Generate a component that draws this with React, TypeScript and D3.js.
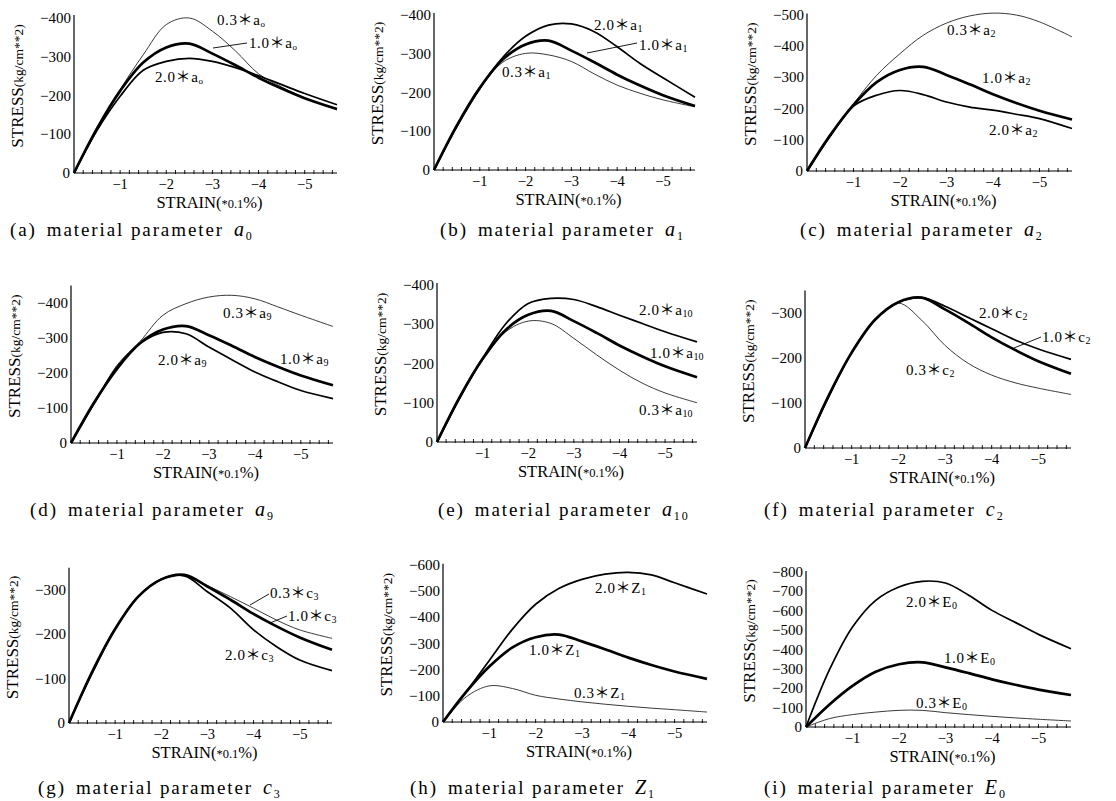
import React from "react";
import * as d3 from "d3";

// Strain (×0.1%) sample points shared by all series
const STRAIN = [0, -0.5, -1, -1.5, -2, -2.5, -3, -3.5, -4, -4.5, -5, -5.7];
const X_TICKS = [-1, -2, -3, -4, -5];
const X_MINOR = d3.range(1, 29).map((i) => -i * 0.2);

// reference curve (1.0 × parameter), stress in kg/cm**2
const BASE_10 = [0, -115, -212, -285, -324, -334, -308, -278, -246, -218, -193, -165];

// (a) a0
const A0_03 = [0, -110, -215, -305, -383, -400, -366, -315, -256, -222, -194, -163];
const A0_20 = [0, -110, -198, -265, -288, -296, -288, -272, -251, -228, -205, -176];
// (b) a1
const A1_20 = [0, -112, -210, -290, -345, -374, -377, -357, -318, -275, -238, -188];
const A1_03 = [0, -112, -210, -278, -301, -297, -280, -248, -219, -198, -181, -163];
// (c) a2
const A2_03 = [0, -112, -215, -307, -376, -435, -474, -497, -506, -500, -478, -430];
const A2_20 = [0, -112, -208, -243, -258, -245, -221, -205, -195, -182, -168, -136];
// (d) a9
const A9_03 = [0, -112, -222, -290, -365, -398, -417, -422, -412, -389, -365, -333];
const A9_20 = [0, -112, -217, -284, -316, -312, -274, -238, -203, -175, -150, -127];
// (e) a10
const A10_20 = [0, -112, -213, -300, -353, -366, -363, -345, -323, -302, -281, -255];
const A10_03 = [0, -112, -208, -280, -308, -302, -264, -222, -183, -150, -125, -100];
// (f) c2
const C2_20 = [0, -112, -212, -285, -324, -334, -315, -290, -265, -240, -220, -197];
const C2_03 = [0, -112, -212, -284, -322, -284, -228, -188, -162, -145, -133, -119];
// (g) c3
const C3_03 = [0, -112, -212, -285, -324, -334, -310, -285, -259, -232, -210, -191];
const C3_20 = [0, -112, -212, -285, -324, -332, -296, -259, -210, -172, -142, -118];
// (h) Z1
const Z1_20 = [0, -115, -235, -355, -450, -510, -545, -565, -572, -562, -532, -489];
const Z1_03 = [0, -96, -138, -128, -102, -88, -77, -68, -60, -53, -47, -38];
// (i) E0
const E0_20 = [0, -293, -516, -654, -723, -752, -743, -680, -602, -540, -478, -404];
const E0_03 = [0, -43, -64, -77, -86, -86, -74, -64, -55, -47, -40, -31];

type Lbl = { f: string; x: number; y: number; lead?: [number, number, number, number] };
type Panel = {
  letter: string;
  sym: string;
  symSub: string;
  capSym: string;
  capSub: string;
  x0: number; x1: number; y0: number;
  yRef: number; yRefPx: number; yTop: number;
  yTicks: number[];
  series: { f: string; v: number[] }[];
  labels: Lbl[];
  capX: number; capY: number;
};

const ticksTo = (m: number) => d3.range(0, m + 1, 100).map((v) => -v);

const PANELS: Panel[] = [
  {
    letter: "a", sym: "a", symSub: "o", capSym: "a", capSub: "0",
    x0: 74, x1: 337, y0: 173, yRef: -400, yRefPx: 18, yTop: -408, yTicks: ticksTo(400),
    series: [{ f: "0.3", v: A0_03 }, { f: "2.0", v: A0_20 }, { f: "1.0", v: BASE_10 }],
    labels: [{ f: "0.3", x: 217, y: 20 }, { f: "1.0", x: 249, y: 43, lead: [213, 48, 247, 43] }, { f: "2.0", x: 155, y: 77 }],
    capX: 10, capY: 230,
  },
  {
    letter: "b", sym: "a", symSub: "1", capSym: "a", capSub: "1",
    x0: 434, x1: 695, y0: 170, yRef: -400, yRefPx: 15, yTop: -405, yTicks: ticksTo(400),
    series: [{ f: "0.3", v: A1_03 }, { f: "2.0", v: A1_20 }, { f: "1.0", v: BASE_10 }],
    labels: [{ f: "2.0", x: 594, y: 25 }, { f: "1.0", x: 639, y: 45, lead: [587, 53, 637, 43] }, { f: "0.3", x: 502, y: 72 }],
    capX: 440, capY: 230,
  },
  {
    letter: "c", sym: "a", symSub: "2", capSym: "a", capSub: "2",
    x0: 807, x1: 1072, y0: 171, yRef: -500, yRefPx: 15, yTop: -505, yTicks: ticksTo(500),
    series: [{ f: "0.3", v: A2_03 }, { f: "2.0", v: A2_20 }, { f: "1.0", v: BASE_10 }],
    labels: [{ f: "0.3", x: 947, y: 30 }, { f: "1.0", x: 982, y: 78 }, { f: "2.0", x: 989, y: 130 }],
    capX: 800, capY: 230,
  },
  {
    letter: "d", sym: "a", symSub: "9", capSym: "a", capSub: "9",
    x0: 71, x1: 333, y0: 443, yRef: -400, yRefPx: 303, yTop: -450, yTicks: ticksTo(400),
    series: [{ f: "0.3", v: A9_03 }, { f: "2.0", v: A9_20 }, { f: "1.0", v: BASE_10 }],
    labels: [{ f: "0.3", x: 223, y: 313 }, { f: "2.0", x: 158, y: 360 }, { f: "1.0", x: 280, y: 359 }],
    capX: 30, capY: 510,
  },
  {
    letter: "e", sym: "a", symSub: "10", capSym: "a", capSub: "10",
    x0: 437, x1: 697, y0: 442, yRef: -400, yRefPx: 285, yTop: -405, yTicks: ticksTo(400),
    series: [{ f: "0.3", v: A10_03 }, { f: "2.0", v: A10_20 }, { f: "1.0", v: BASE_10 }],
    labels: [{ f: "2.0", x: 639, y: 310 }, { f: "1.0", x: 650, y: 353 }, { f: "0.3", x: 639, y: 410 }],
    capX: 438, capY: 510,
  },
  {
    letter: "f", sym: "c", symSub: "2", capSym: "c", capSub: "2",
    x0: 805, x1: 1071, y0: 448, yRef: -300, yRefPx: 313, yTop: -350, yTicks: ticksTo(300),
    series: [{ f: "0.3", v: C2_03 }, { f: "2.0", v: C2_20 }, { f: "1.0", v: BASE_10 }],
    labels: [{ f: "2.0", x: 979, y: 313 }, { f: "1.0", x: 1042, y: 337, lead: [1014, 348, 1041, 337] }, { f: "0.3", x: 906, y: 370 }],
    capX: 764, capY: 510,
  },
  {
    letter: "g", sym: "c", symSub: "3", capSym: "c", capSub: "3",
    x0: 69, x1: 332, y0: 723, yRef: -300, yRefPx: 590, yTop: -350, yTicks: ticksTo(300),
    series: [{ f: "0.3", v: C3_03 }, { f: "2.0", v: C3_20 }, { f: "1.0", v: BASE_10 }],
    labels: [{ f: "0.3", x: 270, y: 593, lead: [250, 605, 269, 594] }, { f: "1.0", x: 288, y: 616, lead: [270, 623, 287, 616] }, { f: "2.0", x: 225, y: 655 }],
    capX: 38, capY: 788,
  },
  {
    letter: "h", sym: "Z", symSub: "1", capSym: "Z", capSub: "1",
    x0: 443, x1: 707, y0: 722, yRef: -600, yRefPx: 565, yTop: -605, yTicks: ticksTo(600),
    series: [{ f: "0.3", v: Z1_03 }, { f: "2.0", v: Z1_20 }, { f: "1.0", v: BASE_10 }],
    labels: [{ f: "2.0", x: 595, y: 588 }, { f: "1.0", x: 529, y: 650 }, { f: "0.3", x: 574, y: 693 }],
    capX: 410, capY: 788,
  },
  {
    letter: "i", sym: "E", symSub: "0", capSym: "E", capSub: "0",
    x0: 806, x1: 1071, y0: 727, yRef: -800, yRefPx: 572, yTop: -805, yTicks: ticksTo(800),
    series: [{ f: "0.3", v: E0_03 }, { f: "2.0", v: E0_20 }, { f: "1.0", v: BASE_10 }],
    labels: [{ f: "2.0", x: 906, y: 602 }, { f: "1.0", x: 944, y: 658 }, { f: "0.3", x: 916, y: 703 }],
    capX: 764, capY: 788,
  },
];

const SERIF = "'Liberation Serif', 'DejaVu Serif', 'Noto Sans CJK JP', serif";
const WIDTH: Record<string, number> = { "0.3": 0.9, "1.0": 2.7, "2.0": 1.7 };
const COLOR: Record<string, string> = { "0.3": "#222", "1.0": "#000", "2.0": "#000" };
const fmt = d3.format("d");

function ChartPanel({ p }: { p: Panel }) {
  const x = d3.scaleLinear().domain([0, -5.7]).range([p.x0, p.x1]);
  const y = d3.scaleLinear().domain([0, p.yRef]).range([p.y0, p.yRefPx]);
  const line = d3
    .line<number>()
    .x((_, i) => x(STRAIN[i]))
    .y((d) => y(d))
    .curve(d3.curveCatmullRom.alpha(0.5));
  const yTopPx = y(p.yTop);
  const midY = (p.y0 + yTopPx) / 2 - 8;
  const labX = p.x0 - 57;
  const subSize = p.symSub === "o" ? 9 : 10;
  return (
    <g>
      {/* curves */}
      {p.series.map((s) => (
        <path key={s.f} d={line(s.v) || ""} fill="none" stroke={COLOR[s.f]} strokeWidth={WIDTH[s.f]} strokeLinejoin="round" />
      ))}
      {/* axes */}
      <line x1={p.x0} y1={p.y0} x2={p.x0} y2={yTopPx} stroke="#000" strokeWidth={1.2} />
      <line x1={p.x0} y1={p.y0} x2={p.x1} y2={p.y0} stroke="#000" strokeWidth={1.2} />
      {X_MINOR.map((t) => (
        <line key={t} x1={x(t)} x2={x(t)} y1={p.y0 - 3} y2={p.y0 + 1} stroke="#000" strokeWidth={0.9} />
      ))}
      {X_TICKS.map((t) => (
        <text key={t} x={x(t)} y={p.y0 + 16} textAnchor="middle" fontSize={14.5} fontFamily={SERIF}>
          {fmt(t)}
        </text>
      ))}
      {p.yTicks.map((t) => (
        <text key={t} x={p.x0 - (t === 0 ? 4 : 3)} y={y(t) + 5} textAnchor="end" fontSize={15} fontFamily={SERIF}>
          {fmt(t)}
        </text>
      ))}
      {/* axis titles */}
      <text
        transform={`translate(${labX},${midY}) rotate(-90)`}
        textAnchor="middle"
        fontFamily={SERIF}
        fontSize={17}
        dy={6}
      >
        STRESS<tspan fontSize={13.5}>(kg/cm**2)</tspan>
      </text>
      <text x={(p.x0 + p.x1) / 2 + 4} y={p.y0 + 35} textAnchor="middle" fontFamily={SERIF} fontSize={16.5}>
        STRAIN(<tspan fontSize={12.5}>*0.1</tspan>%)
      </text>
      {/* curve labels */}
      {p.labels.map((l) => (
        <g key={l.f}>
          {l.lead && <line x1={l.lead[0]} y1={l.lead[1]} x2={l.lead[2]} y2={l.lead[3]} stroke="#000" strokeWidth={0.9} />}
          <text x={l.x} y={l.y + 5} fontFamily={SERIF} fontSize={15} letterSpacing={0.6}>
            {l.f}＊{p.sym}
            <tspan fontSize={subSize} dy={2} letterSpacing={0}>{p.symSub}</tspan>
          </text>
        </g>
      ))}
      {/* caption */}
      <text x={p.capX} y={p.capY + 6} fontFamily={SERIF} fontSize={19} letterSpacing={1.9}>
        ({p.letter})
        <tspan dx={10}>material parameter</tspan>
        <tspan dx={10} fontStyle="italic" fontSize={20}>{p.capSym}</tspan>
        <tspan fontSize={12} dy={4}>{p.capSub}</tspan>
      </text>
    </g>
  );
}

export default function App() {
  return (
    <svg
      width={1116}
      height={801}
      viewBox="0 0 1116 801"
      style={{ position: "absolute", left: 0, top: 0, background: "#fff" }}
    >
      <rect width={1116} height={801} fill="#fff" />
      {PANELS.map((p) => (
        <ChartPanel key={p.letter} p={p} />
      ))}
    </svg>
  );
}
